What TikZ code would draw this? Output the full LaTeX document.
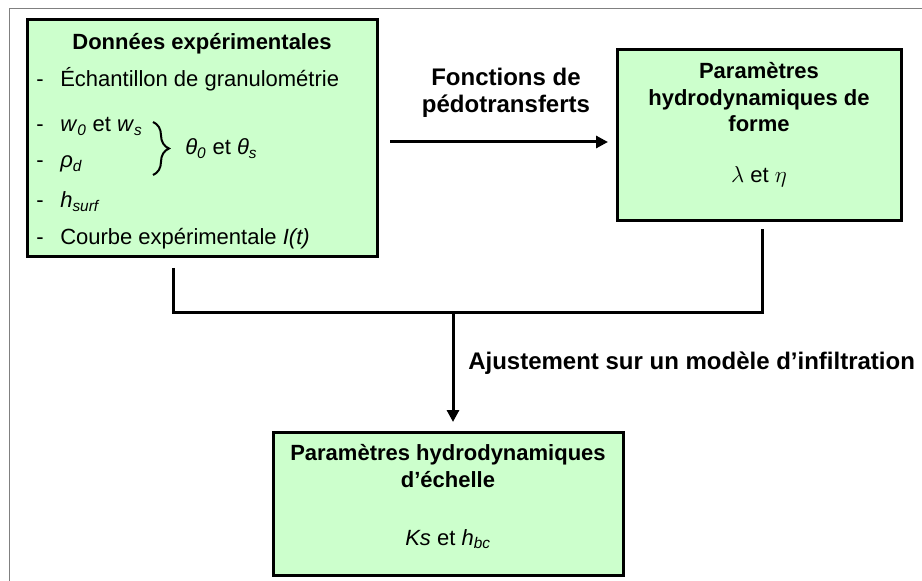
\documentclass[tikz,border=0pt]{standalone}
\usepackage{fontspec}
\setmainfont{Liberation Sans}
\usepackage{xcolor}
\usepackage{tikz}
\usetikzlibrary{arrows.meta}
\usetikzlibrary{positioning}
\usetikzlibrary{decorations.pathreplacing}
\definecolor{boxgreen}{HTML}{CCFFCC}
\newcommand{\isub}[2]{\textit{#1}\textsubscript{\textit{#2}}}
\tikzset{
    boxnode/.style = {rectangle, draw=black, fill=boxgreen, line width=2.25pt, inner sep=0pt, outer sep=0pt},
    txtnode/.style = {inner sep=0pt, font=\fontsize{16.5}{19.5}\selectfont},
    boxtitle/.style = {inner sep=0pt, align=center, font=\bfseries\fontsize{16.5}{20}\selectfont},
    lblnode/.style = {inner sep=0pt, align=center, font=\bfseries\fontsize{18}{20}\selectfont},
}

\begin{document}
\begin{tikzpicture}[
	x=0.75pt,
	y=-0.75pt
]
\tikzset{
    link/.style = {line width=2.25pt},
    flow/.style = {line width=2.25pt, -{Triangle[length=9pt,width=9pt]}},
    frame/.style = {draw=black!50, line width=0.75pt},
    brace/.style = {decorate, decoration={brace, amplitude=12pt}, line width=1.5pt}
}
\useasboundingbox (0,0) rectangle (922,581);
\clip (0,0) rectangle (922,581);
\draw[frame] (9,9) rectangle (940,600);
%
\node[boxnode, minimum width=262.5pt, minimum height=177.75pt] at (202,138.5) (donnees) {};
\node[boxnode, minimum width=213pt, minimum height=128.25pt] at (759,135.5) (forme) {};
\node[boxnode, minimum width=262.5pt, minimum height=107.25pt] at (448,503.5) (echelle) {};
%
\node[boxtitle, anchor=base] at (202,50) (titre) {Données expérimentales};
\node[txtnode, anchor=base west] at (36,87) (tiret1) {-};
\node[txtnode, anchor=base west] at (36,132) (tiret2) {-};
\node[txtnode, anchor=base west] at (36,168) (tiret3) {-};
\node[txtnode, anchor=base west] at (36,208) (tiret4) {-};
\node[txtnode, anchor=base west] at (36,245) (tiret5) {-};
\node[txtnode, anchor=base west] at (60,87) (granulo) {Échantillon de granulométrie};
\node[txtnode, anchor=base west] at (60,132) (teneur) {\isub{w}{0} et \isub{w}{s}};
\node[txtnode, anchor=base west] at (60,168) (densite) {\isub{ρ}{d}};
\node[txtnode, anchor=base west] at (60,208) (charge) {\isub{h}{surf}};
\node[txtnode, anchor=base west] at (60,245) (courbe) {Courbe expérimentale \textit{I(t)}};
\node[txtnode, anchor=base west] at (185,155) (theta) {\isub{θ}{0} et \isub{θ}{s}};
\draw[brace] (153,122) -- (153,175);
%
\node[boxtitle, anchor=north] at (759,62) (formetitre) {Paramètres\\hydrodynamiques de\\forme};
\node[txtnode, anchor=base] at (759,183) (lambda) {$\lambda$ et $\eta$};
%
\node[boxtitle, anchor=north] at (448,444) (echelletitre) {Paramètres hydrodynamiques\\d’échelle};
\node[txtnode, anchor=base] at (448,545) (ks) {\textit{Ks} et \isub{h}{bc}};
%
\node[lblnode, anchor=north] at (506,68) (pdt) {Fonctions de\\pédotransferts};
\node[lblnode, anchor=base west] at (468,369) (ajust) {Ajustement sur un modèle d’infiltration};
%
\coordinate (fy) at (0,142);
\coordinate (jl) at (173,313);
\coordinate (jr) at (762,313);
\coordinate (jm) at (453,313);
\draw[flow, shorten <=9.75pt, shorten >=6.75pt] (donnees.east |- fy) -- (forme.west |- fy);
\draw[link, shorten <=8.25pt, shorten >=6pt] (donnees.south -| jl) -- (jl) -- (jr) -- (forme.south -| jr);
\draw[flow, shorten >=7.5pt] (jm) -- (echelle.north -| jm);
\end{tikzpicture}
\end{document}
